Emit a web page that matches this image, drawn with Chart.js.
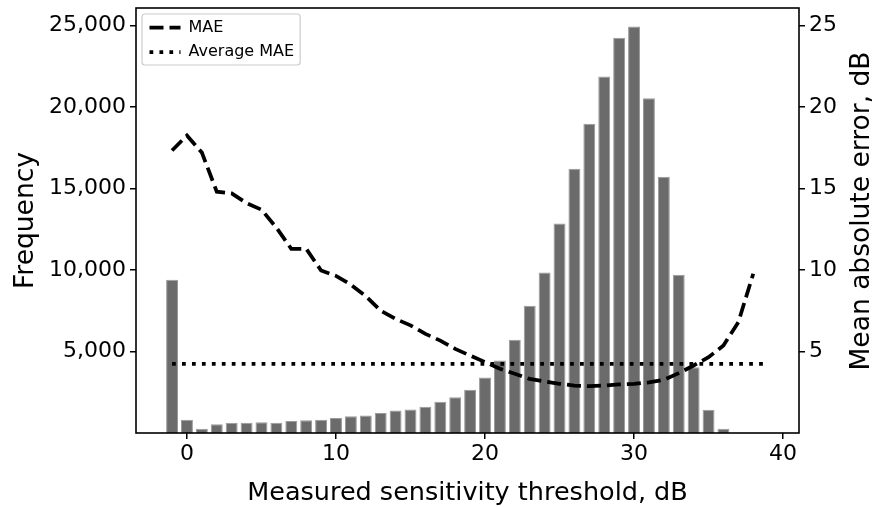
<!DOCTYPE html>
<html><head><meta charset="utf-8">
<script src="https://cdn.jsdelivr.net/npm/chart.js@4"></script>
<style>html,body{margin:0;padding:0;background:#fff}#wrap{width:875px;height:507px}</style>
</head><body><div id="wrap"><canvas id="c" width="875" height="507"></canvas></div>
<script>
// ---- data ----
const thresholds = [-1,0,1,2,3,4,5,6,7,8,9,10,11,12,13,14,15,16,17,18,19,20,21,22,23,24,25,26,27,28,29,30,31,32,33,34,35,36];
const frequency = [9400,820,260,540,625,625,665,625,740,775,820,920,1030,1070,1230,1380,1440,1610,1915,2195,2650,3405,4450,5720,7800,9840,12850,16210,18970,21870,24245,24940,20540,15720,9705,4040,1425,255];
const maeThresholds = [-1,0,1,2,3,4,5,6,7,8,9,10,11,12,13,14,15,16,17,18,19,20,21,22,23,24,25,26,27,28,29,30,31,32,33,34,35,36,37,38];
const maeValues = [17.33,18.25,17.2,14.8,14.7,14.1,13.7,12.6,11.3,11.3,9.97,9.64,9.1,8.4,7.5,7.0,6.6,6.08,5.67,5.16,4.75,4.35,3.94,3.63,3.32,3.16,3.02,2.91,2.87,2.91,2.98,3.02,3.10,3.26,3.67,4.14,4.65,5.37,6.8,9.77];
const averageMae = 4.24;
const averageSpan = [-1, 39];
const xTicks = [0,10,20,30,40];
const freqTicks = [5000,10000,15000,20000,25000];
const maeTicks = [5,10,15,20,25];
const labels = {x:'Measured sensitivity threshold, dB', y:'Frequency', y1:'Mean absolute error, dB', mae:'MAE', avg:'Average MAE'};

const FONT = 'DejaVu Sans';

const decorPlugin = {
  id: 'decor',
  beforeDraw(chart) {
    const {ctx, chartArea: ca, legend} = chart;
    legend.left = ca.left + 5;
    legend.top = ca.top + 3;
    const hw = Math.max(...legend.legendHitBoxes.map(h => h.width));
    const x = ca.left + 6, y = ca.top + 6, w = 8.5 + hw + 5, h = 51, r = 3;
    ctx.save();
    ctx.fillStyle = 'rgba(255,255,255,0.8)';
    ctx.strokeStyle = '#cccccc';
    ctx.lineWidth = 1.2;
    ctx.beginPath();
    ctx.moveTo(x + r, y);
    ctx.arcTo(x + w, y, x + w, y + h, r);
    ctx.arcTo(x + w, y + h, x, y + h, r);
    ctx.arcTo(x, y + h, x, y, r);
    ctx.arcTo(x, y, x + w, y, r);
    ctx.closePath();
    ctx.fill();
    ctx.stroke();
    ctx.restore();
  },
  afterDraw(chart) {
    const {ctx, chartArea: ca} = chart;
    ctx.save();
    ctx.strokeStyle = '#000';
    ctx.lineWidth = 1.6;
    ctx.strokeRect(ca.left, ca.top, ca.right - ca.left, ca.bottom - ca.top);
    ctx.translate(862, 211);
    ctx.rotate(-Math.PI / 2);
    ctx.fillStyle = '#000';
    ctx.font = '26.5px "' + FONT + '"';
    ctx.textAlign = 'center';
    ctx.textBaseline = 'middle';
    ctx.fillText(labels.y1, 0, 0);
    ctx.restore();
  }
};

const tickGrid = {drawOnChartArea: false, drawTicks: true, tickLength: 6, color: '#000', lineWidth: 1.5};
const noPad = s => { s.paddingTop = 0; s.paddingBottom = 0; s.paddingLeft = 0; s.paddingRight = 0; };

new Chart(document.getElementById('c'), {
  type: 'bar',
  data: {
    datasets: [
      {
        type: 'line', label: labels.mae, yAxisID: 'y1',
        data: maeThresholds.map((t, i) => ({x: t, y: maeValues[i]})),
        borderColor: '#000', backgroundColor: '#000', borderWidth: 3.75, borderDash: [14, 6],
        pointRadius: 0, tension: 0, fill: false, order: 0
      },
      {
        type: 'line', label: labels.avg, yAxisID: 'y1',
        data: averageSpan.map(t => ({x: t, y: averageMae})),
        borderColor: '#000', backgroundColor: '#000', borderWidth: 3.75, borderDash: [3.75, 6.2],
        pointRadius: 0, tension: 0, fill: false, order: 1
      },
      {
        type: 'bar', label: 'Frequency', yAxisID: 'y',
        data: thresholds.map((t, i) => ({x: t, y: frequency[i]})),
        backgroundColor: '#6b6b6b', borderColor: '#9a9a9a', borderWidth: 1,
        barPercentage: 0.8, categoryPercentage: 1, order: 2
      }
    ]
  },
  options: {
    responsive: false, animation: false, devicePixelRatio: 1,
    layout: {padding: {top: 8, left: 0, right: 0, bottom: 0}},
    plugins: {
      legend: {
        position: 'chartArea', align: 'start',
        labels: {
          filter: item => item.datasetIndex < 2,
          generateLabels: chart => Chart.defaults.plugins.legend.labels.generateLabels(chart).map(item => {
            const ds = chart.data.datasets[item.datasetIndex];
            item.lineDash = ds.borderDash;
            item.lineWidth = ds.borderWidth;
            item.strokeStyle = '#000';
            item.pointStyle = 'line';
            return item;
          }),
          usePointStyle: true, pointStyle: 'line', pointStyleWidth: 31, boxWidth: 31,
          padding: 8.5, color: '#000', font: {family: FONT, size: 16}
        }
      },
      tooltip: {enabled: false}
    },
    scales: {
      x: {
        type: 'linear', min: -3.42, max: 41.07, offset: false,
        afterBuildTicks: s => { s.ticks = xTicks.map(v => ({value: v})); },
        afterFit: s => { s.height = 74; noPad(s); },
        grid: Object.assign({offset: false}, tickGrid),
        border: {display: false},
        ticks: {color: '#000', font: {family: FONT, size: 22}, padding: 2, maxRotation: 0},
        title: {display: true, text: labels.x, color: '#000', font: {family: FONT, size: 25.5, lineHeight: 1.05}, padding: {top: 0, bottom: 0}}
      },
      y: {
        type: 'linear', position: 'left', min: 0, max: 26070,
        afterBuildTicks: s => { s.ticks = freqTicks.map(v => ({value: v})); },
        afterFit: s => { s.width = 136; noPad(s); },
        grid: tickGrid, border: {display: false},
        ticks: {color: '#000', font: {family: FONT, size: 22}, padding: 4, callback: v => v.toLocaleString('en-US')},
        title: {display: true, text: labels.y, color: '#000', font: {family: FONT, size: 26.5}, padding: {top: 10, bottom: 0}}
      },
      y1: {
        type: 'linear', position: 'right', min: 0, max: 26.07,
        afterBuildTicks: s => { s.ticks = maeTicks.map(v => ({value: v})); },
        afterFit: s => { s.width = 76; noPad(s); },
        grid: tickGrid, border: {display: false},
        ticks: {color: '#000', font: {family: FONT, size: 22}, padding: 4}
      }
    }
  },
  plugins: [decorPlugin]
});
</script>
</body></html>
